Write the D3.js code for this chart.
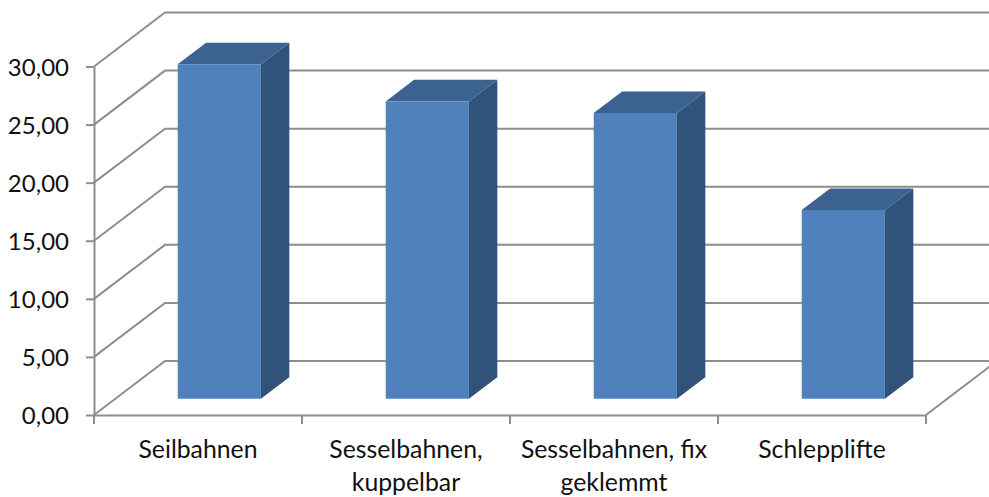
<!DOCTYPE html>
<html>
<head>
<meta charset="utf-8">
<script src="https://cdn.jsdelivr.net/npm/d3@7"></script>
<style>
    html, body { margin: 0; padding: 0; background: #fff; overflow: hidden; }
    svg { display: block; }
    text { font-family: Lato, sans-serif; fill: #111; }
</style>
</head>
<body>
<div id="chart"></div>
<script>
// Chart data
const categories = ["Seilbahnen", "Sesselbahnen, kuppelbar", "Sesselbahnen, fix geklemmt", "Schlepplifte"];
const categoryLines = [["Seilbahnen"], ["Sesselbahnen,", "kuppelbar"], ["Sesselbahnen, fix", "geklemmt"], ["Schlepplifte"]];
const values = [28.8, 25.6, 24.6, 16.25];
const yTicks = [0, 5, 10, 15, 20, 25, 30];

const width = 989, height = 497;
const plotLeft = 94, plotRight = 926, plotBottom = 415, plotTop = 66.5;
const wallDx = 71, wallDy = -54;

const svg = d3.select("#chart").append("svg")
    .attr("width", width)
    .attr("height", height);

const x = d3.scaleBand().domain(categories).range([plotLeft, plotRight]).paddingInner(0.6).paddingOuter(0.3);
const xAxisScale = d3.scaleBand().domain(categories).range([plotLeft, plotRight]);
const y = d3.scaleLinear().domain([0, 30]).range([plotBottom, plotTop]);

// depth goes from 0 (front) to 1 (back wall)
const zx = d3.scaleLinear().domain([0, 1]).range([0, wallDx]);
const zy = d3.scaleLinear().domain([0, 1]).range([0, wallDy]);
const project = (px, py, z) => [px + zx(z), py + zy(z)];

const gridColor = "#8e8e8e";

// Gridlines on the side and back walls
const walls = svg.append("g").attr("fill", "none").attr("stroke", gridColor).attr("stroke-width", 2);
yTicks.forEach(t => {
    const a = project(plotLeft, y(t), 0);
    const b = project(plotLeft, y(t), 1);
    const c = project(width + 10, y(t), 1);
    walls.append("path").attr("d", d3.line()([a, b, c]));
});

// Floor edge on the right
const floorA = project(plotRight, y(0), 0);
const floorB = project(plotRight, y(0), 1);
walls.append("path").attr("d", d3.line()([floorA, floorB]));

// Axes
const fmt = d => d3.format(".2f")(d).replace(".", ",");

const yAxis = svg.append("g")
    .attr("transform", `translate(${plotLeft},0)`)
    .call(d3.axisLeft(y).tickValues(yTicks).tickFormat(fmt).tickSize(8).tickSizeOuter(0).tickPadding(17));

const xAxis = svg.append("g")
    .attr("transform", `translate(0,${plotBottom})`)
    .call(d3.axisBottom(xAxisScale).tickValues([]).tickSize(0).tickSizeOuter(0));

xAxis.selectAll(".edge").data(d3.range(categories.length + 1)).enter()
    .append("line")
    .attr("class", "edge")
    .attr("x1", i => i < categories.length ? xAxisScale(categories[i]) : plotRight)
    .attr("x2", i => i < categories.length ? xAxisScale(categories[i]) : plotRight)
    .attr("y1", 0)
    .attr("y2", 9)
    .attr("stroke", gridColor)
    .attr("stroke-width", 2);

svg.selectAll(".domain").attr("stroke", gridColor).attr("stroke-width", 2);
yAxis.selectAll(".tick line").attr("stroke", gridColor).attr("stroke-width", 2);
yAxis.selectAll("text").style("font-size", "24px").attr("dy", "0.36em");

// Category labels
const labels = svg.append("g").attr("text-anchor", "middle").style("font-size", "24.8px");
categoryLines.forEach((lines, i) => {
    const cx = xAxisScale(categories[i]) + xAxisScale.bandwidth() / 2;
    lines.forEach((line, j) => {
        labels.append("text")
            .attr("x", cx)
            .attr("y", 458 + j * 33)
            .text(line);
    });
});

// 3D bars, front plane at z=0.3, back at z=0.7
const zFront = 0.3, zBack = 0.7;
const bars = svg.append("g").selectAll("g").data(values).enter().append("g");
const bw = x.bandwidth();

const faceLine = pts => d3.line()(pts) + "Z";

// right side
bars.append("path")
    .attr("fill", "#31527a")
    .attr("d", (d, i) => {
        const xr = x(categories[i]) + bw;
        return faceLine([
            project(xr, y(d), zFront),
            project(xr, y(d), zBack),
            project(xr, y(0), zBack),
            project(xr, y(0), zFront)
        ]);
    });

// top
bars.append("path")
    .attr("fill", "#3c6291")
    .attr("d", (d, i) => {
        const xl = x(categories[i]);
        return faceLine([
            project(xl, y(d), zFront),
            project(xl, y(d), zBack),
            project(xl + bw, y(d), zBack),
            project(xl + bw, y(d), zFront)
        ]);
    });

// front
bars.append("path")
    .attr("fill", "#4f81bd")
    .attr("d", (d, i) => {
        const xl = x(categories[i]);
        return faceLine([
            project(xl, y(d), zFront),
            project(xl + bw, y(d), zFront),
            project(xl + bw, y(0), zFront),
            project(xl, y(0), zFront)
        ]);
    });
</script>
</body>
</html>
